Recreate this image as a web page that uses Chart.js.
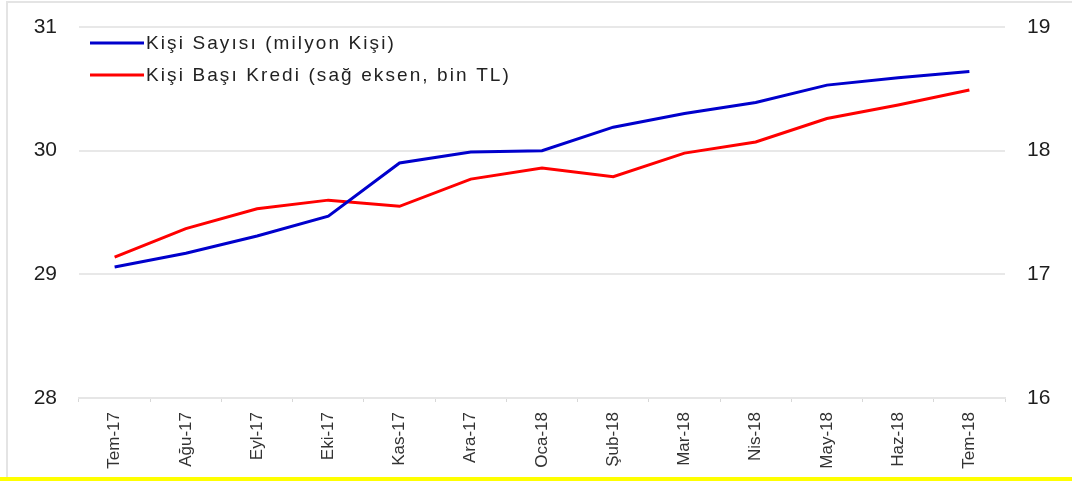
<!DOCTYPE html>
<html>
<head>
<meta charset="utf-8">
<script src="https://cdn.jsdelivr.net/npm/chart.js@4/dist/chart.umd.min.js"></script>
<style>
  html, body { margin: 0; padding: 0; background: #fff; }
  .wrap { position: relative; width: 1072px; height: 481px; overflow: hidden; }
  canvas { position: absolute; left: 0; top: 0; }
  .frame { position: absolute; left: 6px; top: 1px; width: 1066px; height: 474px;
           border-left: 2px solid #e4e4e4; border-top: 2px solid #e4e4e4; border-bottom: 2px solid #e8e8e8; }
  .strip { position: absolute; left: 0; top: 477px; width: 1072px; height: 4px; background: #ffff00; }
</style>
</head>
<body>
<div class="wrap">
  <div class="frame"></div>
  <div class="strip"></div>
  <canvas id="chart" width="1072" height="481"></canvas>
</div>
<script>
const months = ['Tem-17', 'Ağu-17', 'Eyl-17', 'Eki-17', 'Kas-17', 'Ara-17', 'Oca-18',
                'Şub-18', 'Mar-18', 'Nis-18', 'May-18', 'Haz-18', 'Tem-18'];
// milyon kişi (sol eksen)
const kisiSayisi = [29.06, 29.17, 29.31, 29.47, 29.90, 29.99, 30.00,
                    30.19, 30.30, 30.39, 30.53, 30.59, 30.64];
// bin TL (sağ eksen)
const kisiBasiKredi = [17.14, 17.37, 17.53, 17.60, 17.55, 17.77, 17.86,
                       17.79, 17.98, 18.07, 18.26, 18.37, 18.49];

const blue = '#0000cc';
const red = '#ff0000';
const fontFamily = '"Liberation Sans", Arial, sans-serif';

// legend drawn inside the plot, top-left, like the original
const insideLegend = {
  id: 'insideLegend',
  afterDraw(chart) {
    const { ctx, chartArea } = chart;
    ctx.save();
    ctx.font = '19px ' + fontFamily;
    ctx.fillStyle = '#222';
    ctx.textBaseline = 'middle';
    if ('letterSpacing' in ctx) ctx.letterSpacing = '2.1px';
    chart.data.datasets.forEach((ds, i) => {
      const y = chartArea.top + 16 + i * 32;
      const x = chartArea.left + 11;
      ctx.strokeStyle = ds.borderColor;
      ctx.lineWidth = 3;
      ctx.beginPath();
      ctx.moveTo(x, y);
      ctx.lineTo(x + 54, y);
      ctx.stroke();
      ctx.fillText(ds.label, x + 56, y + 1);
    });
    ctx.restore();
  },
};

// y axes: fixed width, no extra top/bottom padding from tick labels
const fixY = (w) => (scale) => {
  scale.width = w;
  scale.paddingTop = 0;
  scale.paddingBottom = 0;
};

const ctx = document.getElementById('chart').getContext('2d');
new Chart(ctx, {
  type: 'line',
  data: {
    labels: months,
    datasets: [
      {
        label: 'Kişi Sayısı (milyon Kişi)',
        data: kisiSayisi,
        yAxisID: 'y',
        borderColor: blue,
        backgroundColor: blue,
        borderWidth: 3,
        pointRadius: 0,
        tension: 0,
      },
      {
        label: 'Kişi Başı Kredi (sağ eksen, bin TL)',
        data: kisiBasiKredi,
        yAxisID: 'y1',
        borderColor: red,
        backgroundColor: red,
        borderWidth: 3,
        pointRadius: 0,
        tension: 0,
      },
    ],
  },
  options: {
    responsive: false,
    animation: false,
    layout: { padding: { top: 27, left: 0, right: 0, bottom: 0 } },
    plugins: {
      tooltip: { enabled: false },
      legend: { display: false },
    },
    scales: {
      x: {
        offset: true,
        grid: { display: true, drawOnChartArea: false, tickLength: 4, color: '#d8d8d8', offset: true },
        border: { display: true, color: '#e6e6e6', width: 2 },
        ticks: {
          minRotation: 90,
          maxRotation: 90,
          autoSkip: false,
          padding: 10,
          color: '#333',
          font: { family: fontFamily, size: 17 },
        },
        afterFit: (scale) => { scale.height = 83; },
      },
      y: {
        position: 'left',
        min: 28,
        max: 31,
        ticks: { stepSize: 1, padding: 22, color: '#1e1e1e', font: { family: fontFamily, size: 21 } },
        grid: { color: '#e8e8e8', lineWidth: 2, tickLength: 0 },
        border: { display: false },
        afterFit: fixY(79),
      },
      y1: {
        position: 'right',
        min: 16,
        max: 19,
        ticks: { stepSize: 1, padding: 22, color: '#1e1e1e', font: { family: fontFamily, size: 21 } },
        grid: { drawOnChartArea: false, tickLength: 0 },
        border: { display: false },
        afterFit: fixY(67),
      },
    },
  },
  plugins: [insideLegend],
});
</script>
</body>
</html>
